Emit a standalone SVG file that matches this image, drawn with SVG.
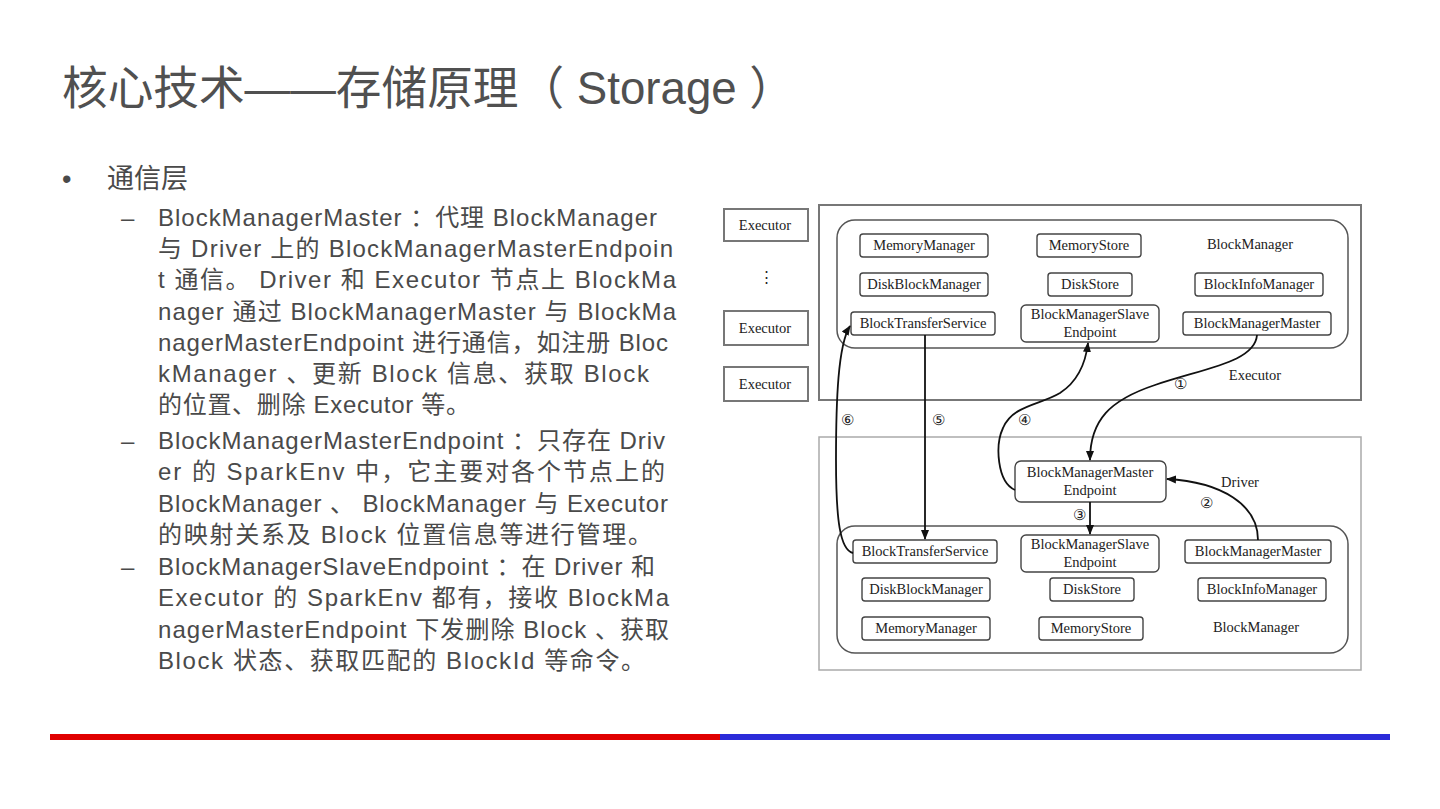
<svg xmlns="http://www.w3.org/2000/svg" width="1440" height="809" viewBox="0 0 1440 809">
<defs>
<style>
.title{font-family:"Liberation Sans","Noto Sans CJK SC",sans-serif;font-size:46px;fill:#505050}
.body{font-family:"Liberation Sans","Noto Sans CJK SC",sans-serif;font-size:24px;fill:#4a4a4a}
.lvl1{font-family:"Liberation Sans","Noto Sans CJK SC",sans-serif;font-size:27px;fill:#4a4a4a}
.n{fill:#fff;stroke:#444;stroke-width:1.4}
.t{font-family:"Liberation Serif","Times New Roman",serif;font-size:14.5px;fill:#222;text-anchor:middle}
.outer{fill:#fff;stroke:#777;stroke-width:2}
.outer2{fill:#fff;stroke:#aaa;stroke-width:1.5}
.inner{fill:none;stroke:#555;stroke-width:1.5}
.c{fill:none;stroke:#111;stroke-width:1.8}
</style>
<marker id="ah" markerWidth="10" markerHeight="10" refX="9" refY="5" orient="auto" markerUnits="userSpaceOnUse">
<path d="M0,1 L10,5 L0,9 Z" fill="#111"/>
</marker>
</defs>
<rect width="1440" height="809" fill="#fff"/>

<text class="title" x="62" y="104" textLength="733" lengthAdjust="spacingAndGlyphs">核心技术——存储原理（ Storage ）</text>

<g id="text-body">
<text class="lvl1" x="62" y="188">•</text>
<text class="lvl1" x="107" y="188">通信层</text>
<text class="body" x="121" y="226">–</text>
<text class="body" x="158" y="226" textLength="499" lengthAdjust="spacing">BlockManagerMaster ：代理 BlockManager</text>
<text class="body" x="158" y="257" textLength="515" lengthAdjust="spacing">与 Driver 上的 BlockManagerMasterEndpoin</text>
<text class="body" x="158" y="288" textLength="518" lengthAdjust="spacing">t 通信。 Driver 和 Executor 节点上 BlockMa</text>
<text class="body" x="158" y="320" textLength="518" lengthAdjust="spacing">nager 通过 BlockManagerMaster 与 BlockMa</text>
<text class="body" x="158" y="351" textLength="510" lengthAdjust="spacing">nagerMasterEndpoint 进行通信，如注册 Bloc</text>
<text class="body" x="158" y="382" textLength="491" lengthAdjust="spacing">kManager 、更新 Block 信息、获取 Block</text>
<text class="body" x="158" y="413" textLength="312" lengthAdjust="spacing">的位置、删除 Executor 等。</text>
<text class="body" x="121" y="449">–</text>
<text class="body" x="158" y="449" textLength="507" lengthAdjust="spacing">BlockManagerMasterEndpoint ：只存在 Driv</text>
<text class="body" x="158" y="480" textLength="507" lengthAdjust="spacing">er 的 SparkEnv 中，它主要对各个节点上的</text>
<text class="body" x="158" y="512" textLength="510" lengthAdjust="spacing">BlockManager 、 BlockManager 与 Executor</text>
<text class="body" x="158" y="543" textLength="494" lengthAdjust="spacing">的映射关系及 Block 位置信息等进行管理。</text>
<text class="body" x="121" y="575">–</text>
<text class="body" x="158" y="575" textLength="497" lengthAdjust="spacing">BlockManagerSlaveEndpoint ：在 Driver 和</text>
<text class="body" x="158" y="606" textLength="511" lengthAdjust="spacing">Executor 的 SparkEnv 都有，接收 BlockMa</text>
<text class="body" x="158" y="638" textLength="511" lengthAdjust="spacing">nagerMasterEndpoint 下发删除 Block 、获取</text>
<text class="body" x="158" y="669" textLength="487" lengthAdjust="spacing">Block 状态、获取匹配的 BlockId 等命令。</text>
</g>

<g id="executors">
<rect class="outer" x="724" y="209" width="84" height="32"/>
<text class="t" x="765" y="230">Executor</text>
<text class="t" x="766" y="282">⋮</text>
<rect class="outer" x="724" y="311" width="84" height="34"/>
<text class="t" x="765" y="333">Executor</text>
<rect class="outer" x="724" y="367" width="84" height="34"/>
<text class="t" x="765" y="389">Executor</text>
</g>

<g id="executor-container">
<rect class="outer" x="819" y="205" width="542" height="195"/>
<rect class="inner" x="837" y="220" width="511" height="128" rx="18"/>
<text class="t" x="1255" y="380">Executor</text>
<text class="t" x="1250" y="249">BlockManager</text>
</g>
<g id="e-memorymanager"><rect class="n" x="860" y="234" width="128" height="23" rx="3"/><text class="t" x="924" y="250">MemoryManager</text></g>
<g id="e-memorystore"><rect class="n" x="1037" y="234" width="104" height="23" rx="3"/><text class="t" x="1089" y="250">MemoryStore</text></g>
<g id="e-diskblockmanager"><rect class="n" x="860" y="273" width="128" height="23" rx="3"/><text class="t" x="924" y="289">DiskBlockManager</text></g>
<g id="e-diskstore"><rect class="n" x="1048" y="273" width="84" height="23" rx="3"/><text class="t" x="1090" y="289">DiskStore</text></g>
<g id="e-blockinfomanager"><rect class="n" x="1195" y="273" width="128" height="23" rx="3"/><text class="t" x="1259" y="289">BlockInfoManager</text></g>
<g id="e-blocktransferservice"><rect class="n" x="851" y="312" width="144" height="23" rx="3"/><text class="t" x="923" y="328">BlockTransferService</text></g>
<g id="e-slaveendpoint"><rect class="n" x="1021" y="305" width="138" height="37" rx="5"/><text class="t" x="1090" y="319">BlockManagerSlave</text><text class="t" x="1090" y="337">Endpoint</text></g>
<g id="e-blockmanagermaster"><rect class="n" x="1183" y="312" width="148" height="23" rx="3"/><text class="t" x="1257" y="328">BlockManagerMaster</text></g>

<g id="driver-container">
<rect class="outer2" x="819" y="437" width="542" height="233"/>
<rect class="inner" x="837" y="526" width="511" height="127" rx="18"/>
<text class="t" x="1240" y="487">Driver</text>
<text class="t" x="1256" y="632">BlockManager</text>
</g>
<g id="d-masterendpoint"><rect class="n" x="1015" y="461" width="151" height="41" rx="6"/><text class="t" x="1090" y="477">BlockManagerMaster</text><text class="t" x="1090" y="495">Endpoint</text></g>
<g id="d-blocktransferservice"><rect class="n" x="853" y="540" width="144" height="23" rx="3"/><text class="t" x="925" y="556">BlockTransferService</text></g>
<g id="d-slaveendpoint"><rect class="n" x="1021" y="535" width="138" height="37" rx="5"/><text class="t" x="1090" y="549">BlockManagerSlave</text><text class="t" x="1090" y="567">Endpoint</text></g>
<g id="d-blockmanagermaster"><rect class="n" x="1185" y="540" width="146" height="23" rx="3"/><text class="t" x="1258" y="556">BlockManagerMaster</text></g>
<g id="d-diskblockmanager"><rect class="n" x="862" y="578" width="128" height="23" rx="3"/><text class="t" x="926" y="594">DiskBlockManager</text></g>
<g id="d-diskstore"><rect class="n" x="1050" y="578" width="84" height="23" rx="3"/><text class="t" x="1092" y="594">DiskStore</text></g>
<g id="d-blockinfomanager"><rect class="n" x="1198" y="578" width="128" height="23" rx="3"/><text class="t" x="1262" y="594">BlockInfoManager</text></g>
<g id="d-memorymanager"><rect class="n" x="862" y="617" width="128" height="23" rx="3"/><text class="t" x="926" y="633">MemoryManager</text></g>
<g id="d-memorystore"><rect class="n" x="1039" y="617" width="104" height="23" rx="3"/><text class="t" x="1091" y="633">MemoryStore</text></g>

<g id="connectors">
<path class="c" marker-end="url(#ah)" d="M853,553 C840,550 836,520 836,460 C836,400 838,345 850,326"/>
<path class="c" marker-end="url(#ah)" d="M925,335 L925,539"/>
<path class="c" marker-end="url(#ah)" d="M1015,490 C997,482 995,445 1003,428 C1013,405 1040,405 1060,393 C1080,380 1086,360 1088,343"/>
<path class="c" marker-end="url(#ah)" d="M1257,335 C1255,362 1205,368 1155,385 C1110,400 1090,420 1090,460"/>
<path class="c" marker-end="url(#ah)" d="M1090,502 L1090,534"/>
<path class="c" marker-end="url(#ah)" d="M1258,540 C1258,505 1222,482 1167,479"/>
<text class="t" x="847" y="425">⑥</text>
<text class="t" x="938" y="425">⑤</text>
<text class="t" x="1024" y="425">④</text>
<text class="t" x="1180" y="389">①</text>
<text class="t" x="1079" y="520">③</text>
<text class="t" x="1206" y="508">②</text>
</g>

<rect x="50" y="734" width="670" height="6" fill="#e00000"/>
<rect x="720" y="734" width="670" height="6" fill="#2b2bd9"/>
</svg>
